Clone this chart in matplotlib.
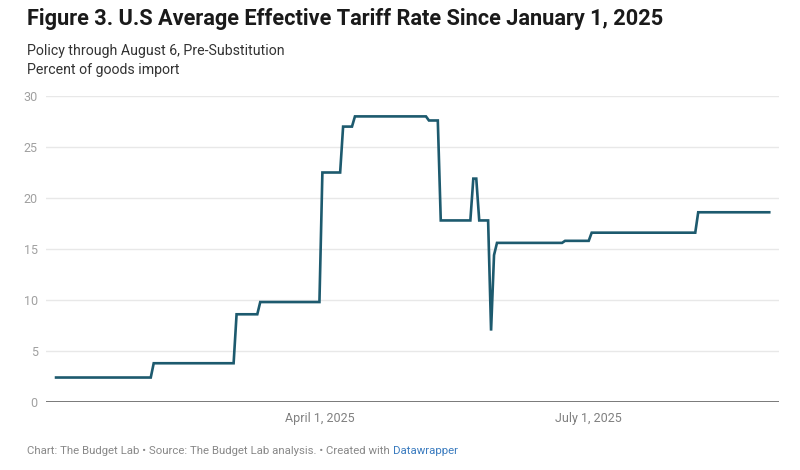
import matplotlib
matplotlib.use("Agg")
import matplotlib.pyplot as plt
import matplotlib.dates as mdates
import numpy as np

plt.rcParams['font.family'] = ['Roboto', 'DejaVu Sans']

# Data (change points of the effective tariff rate, percent)
dates = ["2025-01-02", "2025-02-03", "2025-02-04", "2025-03-03", "2025-03-04",
         "2025-03-11", "2025-03-12", "2025-04-01", "2025-04-02", "2025-04-08",
         "2025-04-09", "2025-04-12", "2025-04-13", "2025-05-07", "2025-05-08",
         "2025-05-11", "2025-05-12", "2025-05-22", "2025-05-23", "2025-05-24",
         "2025-05-25", "2025-05-28", "2025-05-29", "2025-05-30", "2025-05-31",
         "2025-06-22", "2025-06-23", "2025-07-01", "2025-07-02", "2025-08-06",
         "2025-08-07", "2025-08-31"]
values = [2.4, 2.4, 3.8, 3.8, 8.6,
          8.6, 9.8, 9.8, 22.5, 22.5,
          27.0, 27.0, 28.0, 28.0, 27.6,
          27.6, 17.8, 17.8, 21.9, 21.9,
          17.8, 17.8, 7.0, 14.4, 15.6,
          15.6, 15.8, 15.8, 16.6, 16.6,
          18.6, 18.6]
y_ticks = [0, 5, 10, 15, 20, 25, 30]
x_tick_dates = ["2025-04-01", "2025-07-01"]
x_tick_labels = ["April 1, 2025", "July 1, 2025"]

title = "Figure 3. U.S Average Effective Tariff Rate Since January 1, 2025"
subtitle1 = "Policy through August 6, Pre-Substitution"
subtitle2 = "Percent of goods import"
footer = "Chart: The Budget Lab \u2022 Source: The Budget Lab analysis. \u2022 Created with "
footer_link = "Datawrapper"

x = np.array(dates, dtype="datetime64[D]")

fig = plt.figure(figsize=(8, 4.7), dpi=100)
ax = fig.add_axes([46/800, 1-402/470, (779-46)/800, (402-96)/470])

ax.plot(x, values, color="#1d5a6e", linewidth=1.9, solid_joinstyle="miter", zorder=3)

ax.set_ylim(0, 30)
ax.set_xlim(mdates.date2num(np.datetime64("2025-01-02")) - 3.4,
            mdates.date2num(np.datetime64("2025-08-31")) + 3.3)

ax.set_yticks(y_ticks)
ax.set_yticklabels([str(t) for t in y_ticks])
ax.set_xticks(np.array(x_tick_dates, dtype="datetime64[D]"))
ax.set_xticklabels(x_tick_labels)

for t in y_ticks[1:]:
    ax.axhline(t, color="#e8e8e8", linewidth=1.0, zorder=1)
ax.axhline(0, color="#555555", linewidth=1.1, zorder=2)

for s in ax.spines.values():
    s.set_visible(False)
ax.tick_params(axis="both", length=0)
ax.tick_params(axis="y", pad=6, labelsize=9, labelcolor="#a0a0a0")
ax.tick_params(axis="x", pad=7, labelsize=9, labelcolor="#808080")

fig.text(27/800, 1-19/470, title, fontsize=15.7, fontweight="bold", color="#1a1a1a",
         va="center", ha="left")
fig.text(27/800, 1-51/470, subtitle1, fontsize=10.2, color="#333333", va="center", ha="left")
fig.text(27/800, 1-70/470, subtitle2, fontsize=10.2, color="#333333", va="center", ha="left")
t1 = fig.text(27/800, 1-451/470, footer, fontsize=8.2, color="#888888", va="center", ha="left")
ax.annotate(footer_link, xy=(1, 0), xycoords=t1, va="bottom", ha="left",
            fontsize=8.2, color="#3a7bbf", annotation_clip=False)

fig.savefig("out.png", dpi=100)
